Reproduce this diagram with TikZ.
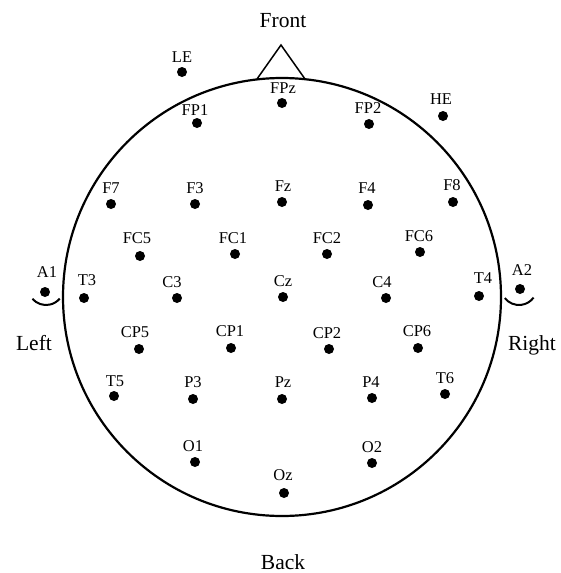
\documentclass[tikz,border=0pt]{standalone}
\usepackage{fontspec}
\setmainfont{Liberation Serif}
\begin{document}
\begin{tikzpicture}[x=1pt,y=-1pt,
  dot/.style={circle,fill=black,inner sep=0pt,minimum size=10pt},
  lab/.style={inner sep=0pt,font=\fontsize{16.5}{16.5}\selectfont,text depth=0pt},
  big/.style={inner sep=0pt,font=\fontsize{21.5}{21.5}\selectfont,text depth=0pt},
  outline/.style={line width=2.2pt},
  ear/.style={line width=2pt}]
\useasboundingbox (0,0) rectangle (560,573);
% head
\node[draw,outline,circle,minimum size=438pt,inner sep=0pt] (head) at (282,297) {};
% nose
\coordinate (noseL) at (257,79);
\coordinate (noseT) at (281,45);
\coordinate (noseR) at (305,79);
\draw[line width=1.5pt,line join=miter] (noseL) -- (noseT) -- (noseR);
% ears
\coordinate (earL) at (46,287);
\coordinate (earR) at (519,287);
\draw[ear] (earL) ++(139:18) arc[start angle=139,end angle=40,radius=18];
\draw[ear] (earR) ++(142:18) arc[start angle=142,end angle=36,radius=18];
% electrodes
\foreach \n/\dx/\dy/\lx/\ly in {
  LE/182/72/182/57, FP1/197/123/195/110, FPz/282/103/283/88, FP2/369/124/368/108,
  HE/443/116/441/99,
  F7/111/204/111/188, F3/195/204/195/188, Fz/282/202/283/186, F4/368/205/367/188,
  F8/453/202/452/185,
  FC5/140/256/137/238, FC1/235/254/233/238, FC2/327/254/327/238, FC6/420/252/419/236,
  T3/84/298/87/280, C3/177/298/172/282, Cz/283/297/283/281, C4/386/298/382/282,
  T4/479/296/483/278,
  CP5/139/349/135/332, CP1/231/348/230/331, CP2/329/349/327/333, CP6/418/348/417/331,
  T5/114/396/115/381, P3/193/399/193/382, Pz/282/399/283/382, P4/372/398/371/382,
  T6/445/394/445/378,
  O1/195/462/193/446, O2/372/463/372/447, Oz/284/493/283/475,
  A1/45/292/47/272, A2/520/289/522/270}{
  \node[dot] (d\n) at (\dx,\dy) {};
  \node[lab] (l\n) at (\lx,\ly) {\n};
}
% directions
\node[big] (front) at (283,20) {Front};
\node[big] (back) at (283,562) {Back};
\node[big] (left) at (34,343) {Left};
\node[big] (right) at (532,343) {Right};
\end{tikzpicture}
\end{document}
